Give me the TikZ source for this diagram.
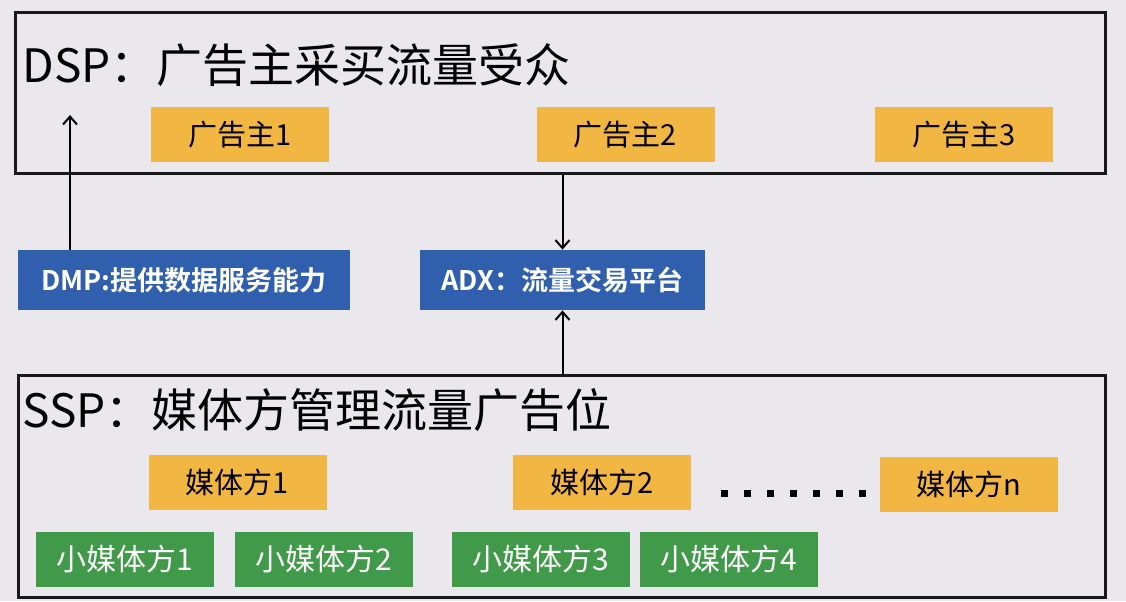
\documentclass[tikz,border=0pt]{standalone}
\usepackage{fontspec}
\usetikzlibrary{arrows.meta}
\setmainfont{Noto Sans CJK SC}[BoldFont={Noto Sans CJK SC Bold}]
\definecolor{bggray}{HTML}{EAE8EC}
\definecolor{adorange}{HTML}{F2B642}
\definecolor{adxblue}{HTML}{2F5FAD}
\definecolor{mediagreen}{HTML}{419A4A}
\tikzset{
  panel/.style={draw=black!90, line width=1.5pt, inner sep=0pt},
  title/.style={anchor=west, inner sep=0pt, font=\fontsize{23}{27}\selectfont},
  orangebox/.style={fill=adorange, inner sep=0pt, minimum width=89pt, minimum height=27.5pt,
    font=\fontsize{14.5}{17}\selectfont},
  greenbox/.style={fill=mediagreen, text=white, inner sep=0pt, minimum width=89pt,
    minimum height=27.5pt, font=\fontsize{15}{18}\selectfont},
  bluebox/.style={fill=adxblue, text=white, inner sep=0pt, minimum height=30pt,
    font=\bfseries\fontsize{13.5}{16}\selectfont},
  flow/.style={-{Straight Barb[length=4pt,width=7pt]}, line width=1pt}
}
\begin{document}
\begin{tikzpicture}[x=0.5pt,y=-0.5pt]
    \fill[bggray] (0,0) rectangle (1126,601);
    \useasboundingbox (0,0) rectangle (1126,601);
    % DSP
    \node[panel, minimum width=545pt, minimum height=80.5pt] (dsp) at (560,92.5) {};
    \node[title] (dsptitle) at (22,65) {DSP：广告主采买流量受众};
    \node[orangebox] (ad1) at (240,134.5) {广告主1};
    \node[orangebox] (ad2) at (625.5,134.5) {广告主2};
    \node[orangebox] (ad3) at (964,134.5) {广告主3};
    % DMP and ADX
    \node[bluebox, minimum width=166pt] (dmp) at (184,280) {DMP:提供数据服务能力};
    \node[bluebox, minimum width=142.5pt] (adx) at (562.5,280) {ADX：流量交易平台};
    % SSP
    \node[panel, minimum width=543.5pt, minimum height=111pt] (ssp) at (561.5,486) {};
    \node[title] (ssptitle) at (22,410) {SSP：媒体方管理流量广告位};
    \node[orangebox] (media1) at (237.5,482.5) {媒体方1};
    \node[orangebox] (media2) at (602,482.5) {媒体方2};
    \node[orangebox] (median) at (969,484.5) {媒体方n};
    \foreach \i in {0,...,6}
        \fill (721+23*\i,490) rectangle +(7,7);
    \node[greenbox] (small1) at (125,559.5) {小媒体方1};
    \node[greenbox] (small2) at (324,559.5) {小媒体方2};
    \node[greenbox] (small3) at (540.5,559.5) {小媒体方3};
    \node[greenbox] (small4) at (729,559.5) {小媒体方4};
    % arrows
    \coordinate (dmptip) at (70,115);
    \draw[flow] (dmp.north -| dmptip) -- (dmptip);
    \draw[flow] (dsp.south -| adx) -- (adx.north);
    \draw[flow] (ssp.north -| adx) -- (adx.south);
\end{tikzpicture}
\end{document}
